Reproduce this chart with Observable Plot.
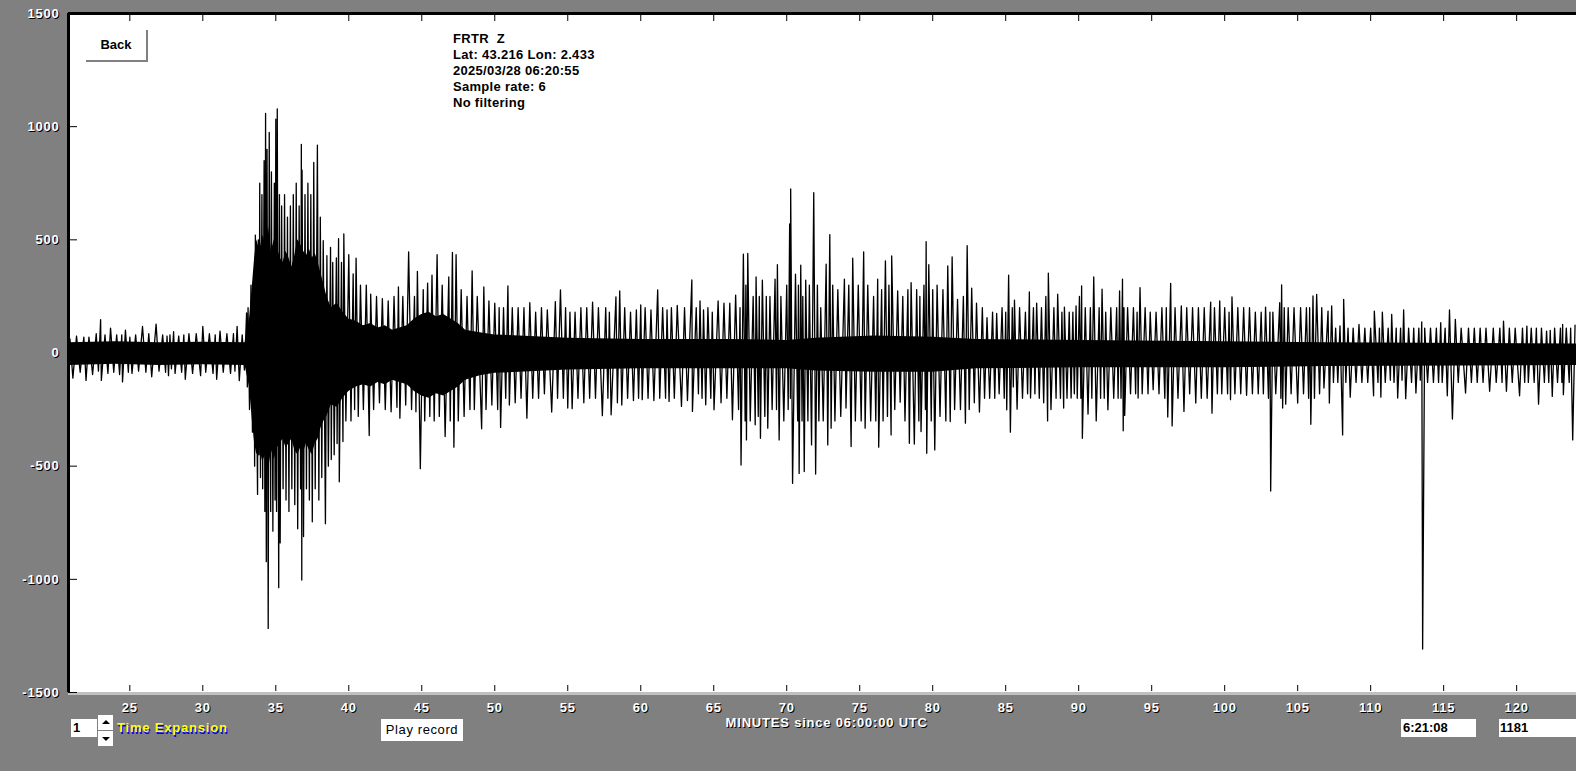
<!DOCTYPE html>
<html><head><meta charset="utf-8">
<script src="https://cdn.jsdelivr.net/npm/d3@7"></script>
<script src="https://cdn.jsdelivr.net/npm/@observablehq/plot@0.6"></script>
<style>
html,body{margin:0;padding:0;}
body{width:1576px;height:771px;background:#808080;position:relative;overflow:hidden;font-family:"Liberation Sans",Arial,sans-serif;}
#chart{position:absolute;left:0;top:0;}
#chart svg text{letter-spacing:0.8px;}
.ui{position:absolute;box-sizing:border-box;white-space:pre;}
#title{left:453px;top:31px;font-size:13px;font-weight:bold;line-height:16px;letter-spacing:0.3px;color:#000;}
#back{left:86px;top:30px;width:62px;height:32px;background:#fff;border-right:2px solid #808080;border-bottom:2px solid #808080;font-size:13px;font-weight:bold;text-align:center;line-height:30px;color:#000;}
#xlabel{left:826.7px;top:715px;transform:translateX(-50%);font-size:13px;font-weight:bold;letter-spacing:0.8px;line-height:16px;color:#fff;text-shadow:1px 1px 0 #000;}
#expInput{left:71px;top:719px;width:26px;height:18px;background:#fff;font-size:13px;font-weight:bold;line-height:18px;padding-left:2px;color:#000;}
.spin{left:98px;width:15px;height:15px;background:#fff;}
#spinUp{top:715px;}
#spinDown{top:731px;}
.tri{position:absolute;left:4px;width:0;height:0;border-left:4px solid transparent;border-right:4px solid transparent;}
#spinUp .tri{top:5px;border-bottom:4px solid #000;}
#spinDown .tri{top:6px;border-top:4px solid #000;}
#timeExp{left:117px;top:719.5px;font-size:13px;font-weight:bold;letter-spacing:0.8px;line-height:16px;color:#ffff00;text-shadow:1px 2px 0 #0000ff;}
#play{left:381px;top:719px;width:82px;height:22px;background:#fff;font-size:13px;letter-spacing:0.6px;line-height:22px;text-align:center;color:#000;}
#clock{left:1401px;top:719px;width:75px;height:18px;background:#fff;font-size:13px;font-weight:bold;line-height:18px;padding-left:2px;color:#000;}
#count{left:1499px;top:719px;width:80px;height:18px;background:#fff;font-size:13px;font-weight:bold;line-height:18px;padding-left:1px;color:#000;}
</style>
</head>
<body>
<div id="chart"></div>
<div class="ui" id="title"></div>
<div class="ui" id="back">Back</div>
<div class="ui" id="xlabel"></div>
<div class="ui" id="expInput">1</div>
<div class="ui spin" id="spinUp"><div class="tri"></div></div>
<div class="ui spin" id="spinDown"><div class="tri"></div></div>
<div class="ui" id="timeExp">Time Expansion</div>
<div class="ui" id="play">Play record</div>
<div class="ui" id="clock">6:21:08</div>
<div class="ui" id="count">1181</div>
<script>
// ---------- text ----------
const titleLines = ["FRTR  Z", "Lat: 43.216 Lon: 2.433", "2025/03/28 06:20:55", "Sample rate: 6", "No filtering"];
const xAxisTitle = "MINUTES since 06:00:00 UTC";

// ---------- axes ----------
const xDomain = [20.8, 124.1];
const yDomain = [-1500, 1500];
const xTicks = [25, 30, 35, 40, 45, 50, 55, 60, 65, 70, 75, 80, 85, 90, 95, 100, 105, 110, 115, 120];
const xTickLabels = ["25", "30", "35", "40", "45", "50", "55", "60", "65", "70", "75", "80", "85", "90", "95", "100", "105", "110", "115", "120"];
const yTicks = [-1500, -1000, -500, 0, 500, 1000, 1500];
const yTickLabels = ["-1500", "-1000", "-500", "0", "500", "1000", "1500"];

// ---------- dense (solid) core of the trace, minutes / counts ----------
const coreT  = [20.8, 24.0, 27.0, 30.0, 32.9, 33.2, 33.4, 33.55, 33.7, 33.9, 34.1, 34.3, 34.5, 34.7, 34.9, 35.1, 35.3, 35.5, 35.7, 35.9,
                36.1, 36.3, 36.5, 36.7, 36.9, 37.1, 37.3, 37.5, 37.7, 37.9, 38.1, 38.3, 38.5, 38.8, 39.2, 39.6, 40.0, 40.5, 41.0, 41.5,
                42.0, 42.5, 43.0, 43.5, 44.0, 44.5, 45.0, 45.5, 46.0, 46.5, 47.0, 47.5, 48.0, 49.0, 50.0, 55.0, 60.0, 66.0, 70.0, 72.0,
                76.0, 80.0, 83.0, 90.0, 100.0, 107.0, 124.1];
const coreHi = [45, 50, 45, 48, 45, 150, 300, 420, 500, 450, 520, 480, 560, 450, 500, 470, 420, 400, 450, 420,
                380, 430, 500, 480, 450, 430, 460, 420, 440, 400, 350, 300, 250, 200, 220, 180, 150, 140, 120, 130,
                110, 120, 100, 110, 120, 150, 170, 180, 160, 170, 150, 130, 100, 90, 80, 65, 60, 60, 55, 65,
                75, 70, 60, 55, 50, 45, 40];
const coreLo = [-55, -50, -55, -52, -55, -150, -300, -400, -450, -420, -480, -450, -520, -430, -470, -420, -400, -380, -420, -400,
                -380, -430, -450, -420, -440, -400, -430, -450, -400, -380, -330, -300, -280, -230, -240, -200, -170, -150, -140, -150,
                -130, -140, -120, -130, -140, -170, -190, -200, -180, -190, -170, -150, -120, -100, -90, -75, -70, -70, -70, -80,
                -85, -85, -70, -65, -65, -60, -55];

// ---------- trace peaks [minute, counts] ----------
const preEvent = [
[20.9,62],[21.1,-111],[21.35,75],[21.6,-85],[21.85,70],[22.0,-121],[22.2,70],[22.45,-95],[22.7,85],[22.85,-80],
[23.0,147],[23.05,-121],[23.3,80],[23.5,-90],[23.68,110],[23.9,-85],[24.1,80],[24.3,-95],[24.45,80],[24.5,-128],
[24.7,101],[24.9,-85],[25.0,70],[25.15,-90],[25.4,80],[25.6,-80],[25.87,117],[26.1,-85],[26.3,85],[26.5,-105],
[26.8,128],[27.0,-80],[27.25,80],[27.45,-85],[27.55,75],[27.65,-100],[27.75,80],[27.85,-70],[28.0,94],[28.1,-90],
[28.35,75],[28.55,-85],[28.7,80],[28.8,-116],[29.05,85],[29.3,-90],[29.55,85],[29.85,-100],[30.0,117],[30.2,-85],
[30.45,85],[30.7,-90],[30.85,80],[30.95,-116],[31.18,97],[31.4,-85],[31.65,85],[31.9,-90],[32.1,85],[32.2,-80],
[32.35,117],[32.5,-122],[32.7,80],[32.85,-75]
];
const pWave = [
[33.0,177],[33.05,-150],[33.1,200],[33.2,-250],[33.3,300],[33.4,-350],[33.5,341],[33.55,-500],[33.6,521],[33.75,-625],
[33.8,500],[33.85,-450],[33.9,750],[33.95,-550],[34.05,700],[34.1,-600],[34.2,850],[34.25,-700],[34.3,1059],[34.35,-922],
[34.4,900],[34.48,-1217],[34.55,975],[34.65,-700],[34.7,800],[34.8,-787],[34.9,750],[34.95,-650],[35.0,1033],[35.05,-700],
[35.1,1079],[35.2,-1037],[35.25,700],[35.3,-839],[35.4,650],[35.5,-600],[35.6,700],[35.7,-650],[35.8,600],[35.9,-700],
[36.0,650],[36.1,-600],[36.2,700],[36.3,-670],[36.4,750],[36.5,-777],[36.6,650],[36.7,-600],[36.75,922],[36.78,-1003],
[36.8,808],[36.9,-811],[37.0,700],[37.1,-600],[37.2,750],[37.3,-650],[37.4,700],[37.5,-746],[37.6,842],[37.7,-600],
[37.85,918],[37.95,-650],[38.05,600],[38.15,-550],[38.25,496],[38.4,-754],[38.5,430]
];
const codaEarly = [
[38.6,-500],[38.75,467],[38.8,-471],[38.9,400],[39.0,-450],[39.15,420],[39.2,-400],[39.3,505],[39.35,-569],[39.5,400],
[39.6,-391],[39.66,526],[39.8,-300],[40.0,434],[40.15,-300],[40.3,350],[40.4,-250],[40.5,419],[40.65,-280],[40.8,300],
[41.0,-250],[41.2,300],[41.4,-365],[41.5,260],[41.7,-250],[41.9,250],[42.1,-220],[42.3,240],[42.5,-250],[42.7,230],
[42.9,-260],[43.1,250],[43.3,-240],[43.4,292],[43.5,-288],[43.7,250],[43.9,-230],[44.1,447],[44.3,-250],[44.5,250],
[44.6,-260],[44.7,360],[44.9,-511],[45.1,280],[45.2,-300],[45.4,309],[45.55,-280],[45.7,344],[45.85,-300],[46.05,434],
[46.2,-280],[46.4,300],[46.6,-369],[46.85,336],[46.95,-300],[47.1,444],[47.2,-416],[47.35,434],[47.5,-300],[47.7,280],
[47.9,-280],[48.1,250],[48.3,-250],[48.45,363],[48.6,-250],[48.8,250],[49.1,-335],[49.25,292],[49.4,-250],[49.6,230],
[49.8,-230],[50.0,220],[50.2,-250],[50.3,200],[50.4,-329],[50.6,200],[50.75,-200],[50.9,296],[51.0,-230],[51.2,200],
[51.4,-220],[51.6,200],[51.8,-200],[52.0,200],[52.2,-288],[52.4,222],[52.6,-200],[52.8,180],[53.0,-200],[53.2,200],
[53.4,-180],[53.6,190],[53.9,-261],[54.15,227],[54.3,-200],[54.5,279],[54.7,-200],[54.85,200],[55.0,-243]
];
const codaMid = [
[55.15,180],[55.3,-246],[55.5,180],[55.7,-200],[55.9,200],[56.1,-220],[56.3,200],[56.5,-200],[56.7,225],[56.9,-200],
[57.1,200],[57.37,-277],[57.6,200],[57.75,-200],[57.85,180],[57.97,-273],[58.3,248],[58.4,-220],[58.56,274],[58.7,-230],
[58.9,200],[59.1,-200],[59.3,180],[59.5,-210],[59.7,190],[59.85,-200],[60.0,212],[60.1,-206],[60.3,200],[60.5,-200],
[60.7,190],[60.9,-210],[61.16,279],[61.3,-200],[61.5,200],[61.7,-200],[61.8,190],[61.94,-214],[62.1,200],[62.3,-200],
[62.5,210],[62.79,-236],[63.0,200],[63.2,-210],[63.5,323],[63.54,-258],[63.8,200],[63.95,-180],[64.06,230],[64.2,-200],
[64.3,190],[64.45,-229],[64.6,200],[64.8,-200],[64.9,180],[65.02,-251],[65.3,230],[65.5,-220],[65.7,220],[65.9,-200],
[66.1,220],[66.28,-295],[66.5,256],[66.7,-250],[66.8,200],[66.87,-495],[67.03,437],[67.15,-300],[67.2,300],[67.24,-384],
[67.33,440],[67.5,-300],[67.7,250],[67.84,-317],[67.9,336],[68.05,-280],[68.12,250],[68.2,-377],[68.33,322],[68.5,-280],
[68.6,250],[68.7,-332],[68.85,250],[69.0,-250],[69.2,326],[69.3,-250],[69.36,390],[69.48,-384],[69.6,250],[69.8,-300],
[70.0,300],[70.1,-250],[70.2,570],[70.25,-200],[70.27,725],[70.4,-576],[70.6,348],[70.75,-300],[70.8,300],[70.85,-532],
[70.96,388],[71.05,-300],[71.1,250],[71.2,-524],[71.3,322],[71.45,-300],[71.55,300],[71.7,-406],[71.85,708],[71.98,-535],
[72.1,300],[72.2,-300],[72.33,200],[72.5,-300]
];
const codaLate = [
[72.7,393],[72.81,-406],[72.95,523],[73.04,-332],[73.15,300],[73.3,-300],[73.5,280],[73.7,-280],[73.95,326],[74.06,-243],
[74.25,300],[74.41,-413],[74.52,419],[74.7,-300],[74.9,300],[75.1,-300],[75.27,447],[75.37,-332],[75.55,300],[75.75,-300],
[75.95,250],[76.1,-300],[76.23,326],[76.3,-416],[76.5,280],[76.6,-300],[76.76,407],[76.9,-280],[77.0,300],[77.15,-362],
[77.19,429],[77.4,-250],[77.6,274],[77.77,-217],[77.95,250],[78.1,-300],[78.3,280],[78.4,-399],[78.52,311],[78.74,-402],
[78.9,280],[79.05,-300],[79.12,250],[79.2,-347],[79.4,300],[79.5,-250],[79.55,492],[79.59,-443],[79.73,390],[79.9,-300],
[80.0,280],[80.14,-428],[80.3,300],[80.5,-280],[80.7,280],[80.9,-300],[81.03,385],[81.2,-303],[81.33,425],[81.5,-250],
[81.7,237],[81.9,-250],[82.1,250],[82.24,-310],[82.36,474],[82.5,-250],[82.67,286],[82.85,-220],[83.0,220],[83.2,-261],
[83.4,200],[83.55,-200],[83.72,156],[83.9,-200],[84.1,180],[84.25,-200],[84.38,175],[84.55,-180],[84.75,200],[84.9,-200],
[85.0,180],[85.07,-251],[85.2,344],[85.32,-350],[85.45,200],[85.52,-150],[85.6,234],[85.78,-248],[85.95,200],[86.15,-200],
[86.35,180],[86.5,-180],[86.62,270],[86.7,-199],[86.9,200],[87.0,-180],[87.12,220],[87.3,-200],[87.45,200],[87.6,-220],
[87.75,250],[87.87,-300],[87.92,353],[88.1,-250],[88.3,200],[88.45,-200],[88.56,260],[88.75,-200],[88.85,180],[88.97,-243],
[89.02,203],[89.2,-200],[89.35,180],[89.48,-199],[89.6,180],[89.7,-180],[89.82,208],[89.9,-200]
];
const codaLater = [
[90.05,250],[90.15,-200],[90.2,296],[90.25,-377],[90.45,200],[90.64,-270],[90.8,200],[90.9,-200],[91.03,336],[91.2,-300],
[91.4,200],[91.5,-200],[91.6,282],[91.75,-200],[91.85,180],[92.0,-251],[92.2,200],[92.4,-200],[92.6,200],[92.7,-200],
[92.8,274],[92.9,-200],[93.0,326],[93.05,-344],[93.1,200],[93.15,-276],[93.35,200],[93.55,-180],[93.75,200],[93.9,-180],
[94.0,180],[94.07,-199],[94.2,289],[94.35,-180],[94.55,200],[94.75,-180],[94.9,180],[95.1,-162],[95.3,180],[95.5,-180],
[95.7,200],[95.9,-200],[96.0,200],[96.1,-283],[96.3,308],[96.4,-322],[96.6,200],[96.8,-200],[97.03,208],[97.21,-258],
[97.4,200],[97.6,-180],[97.8,200],[98.02,-221],[98.2,200],[98.4,-200],[98.6,200],[98.8,-200],[99.04,225],[99.13,-266],
[99.3,200],[99.5,-180],[99.66,230],[99.8,-180],[100.0,200],[100.2,-180],[100.3,180],[100.4,-206],[100.5,248],[100.7,-180],
[100.9,200],[101.1,-180],[101.3,200],[101.5,-187],[101.7,200],[101.9,-180],[102.1,180],[102.3,-180],[102.5,180],[102.65,-180],
[102.8,203],[103.0,-200],[103.1,180],[103.15,-610],[103.3,180],[103.5,-180],[103.77,222],[103.85,-200],[103.9,301],[103.97,-243],
[104.08,200],[104.18,-226],[104.35,200],[104.55,-180],[104.75,200],[105.0,-221],[105.2,200],[105.4,-180],[105.6,200],[105.75,-200],
[105.82,200],[105.9,-315],[106.05,252],[106.15,-200],[106.3,259],[106.5,-180],[106.65,200],[106.8,-155]
];
const tail = [
[107.08,185],[107.17,-221],[107.33,208],[107.45,-130],[107.6,110],[107.75,-130],[107.9,120],[108.08,-362],[108.15,237],[108.3,-130],
[108.45,110],[108.6,-195],[108.8,110],[109.0,-130],[109.2,126],[109.4,-130],[109.6,110],[109.8,-130],[110.0,110],[110.2,-189],
[110.25,185],[110.5,-130],[110.6,110],[110.7,-195],[110.8,181],[111.0,-130],[111.2,110],[111.35,-120],[111.44,171],[111.6,-130],
[111.75,110],[111.85,-199],[112.05,110],[112.15,-120],[112.26,190],[112.4,-202],[112.6,110],[112.8,-130],[112.95,110],[113.1,-177],
[113.3,110],[113.4,-120],[113.5,137],[113.56,-1308],[113.7,110],[113.9,-130],[114.1,110],[114.3,-130],[114.5,110],[114.65,-130],
[114.8,134],[114.9,-130],[115.1,110],[115.25,-189],[115.4,190],[115.6,-292],[115.8,149],[116.0,-130],[116.2,110],[116.5,-177],
[116.7,110],[116.9,-130],[117.1,110],[117.3,-130],[117.5,110],[117.7,-130],[117.9,110],[118.15,-169],[118.4,110],[118.6,-130],
[118.85,110],[119.0,-130],[119.1,141],[119.3,-169],[119.5,110],[119.7,-130],[119.9,110],[120.2,-189],[120.4,110],[120.55,-130],
[120.7,119],[120.8,-130],[121.0,110],[121.2,-130],[121.35,110],[121.5,-226],[121.7,110],[121.9,-130],[122.05,97],[122.2,-130],
[122.3,100],[122.44,-192],[122.6,110],[122.8,-130],[123.0,110],[123.1,-130],[123.15,126],[123.2,-184],[123.4,110],[123.6,-130],
[123.7,110],[123.84,-384],[124.0,123]
];

// ---------- build ----------
document.getElementById("title").textContent = titleLines.join("\n");
document.getElementById("xlabel").textContent = xAxisTitle;

const trace = [...preEvent, ...pWave, ...codaEarly, ...codaMid, ...codaLate, ...codaLater, ...tail].map(([t, v]) => ({t, v}));
const core = coreT.map((t, i) => ({t, hi: coreHi[i], lo: coreLo[i]}));

const font = {fontFamily: '"Liberation Sans", Arial, sans-serif', fontSize: 13, fontWeight: "bold"};
const xFmt = d => xTickLabels[xTicks.indexOf(d)];
const yFmt = d => yTickLabels[yTicks.indexOf(d)];

const chart = Plot.plot({
  width: 1576,
  height: 771,
  marginLeft: 68,
  marginRight: 0,
  marginTop: 13,
  marginBottom: 79,
  style: {background: "transparent", overflow: "visible"},
  x: {domain: xDomain, axis: null},
  y: {domain: yDomain, axis: null},
  marks: [
    Plot.frame({fill: "white", stroke: "none"}),
    Plot.areaY(core, {x: "t", y1: "lo", y2: "hi", fill: "black"}),
    Plot.line(trace, {x: "t", y: "v", stroke: "black", strokeWidth: 1.3}),
    Plot.ruleY([yDomain[0]], {stroke: "#c0c0c0", strokeWidth: 3, dy: 1}),
    Plot.ruleY([yDomain[1]], {stroke: "black", strokeWidth: 3}),
    Plot.ruleX([xDomain[0]], {stroke: "black", strokeWidth: 3}),
    // inward tick marks
    Plot.axisY(yTicks, {anchor: "left", tickSize: 9, dx: 9, fill: "none", label: null}),
    Plot.axisX(xTicks, {anchor: "bottom", tickSize: 6, dy: -7, fill: "none", label: null}),
    Plot.axisX(xTicks, {anchor: "top", tickSize: 7, dy: 7, fill: "none", label: null}),
    // tick labels with shadow
    Plot.axisY(yTicks, {anchor: "left", tickSize: 0, tickPadding: 9, fill: "black", dx: 1, dy: 1, tickFormat: yFmt, label: null, ...font}),
    Plot.axisY(yTicks, {anchor: "left", tickSize: 0, tickPadding: 9, fill: "white", tickFormat: yFmt, label: null, ...font}),
    Plot.axisX(xTicks, {anchor: "bottom", tickSize: 0, tickPadding: 10.5, fill: "black", dx: 1, dy: 1, tickFormat: xFmt, label: null, ...font}),
    Plot.axisX(xTicks, {anchor: "bottom", tickSize: 0, tickPadding: 10.5, fill: "white", tickFormat: xFmt, label: null, ...font})
  ]
});
document.getElementById("chart").appendChild(chart);
</script>
</body></html>
